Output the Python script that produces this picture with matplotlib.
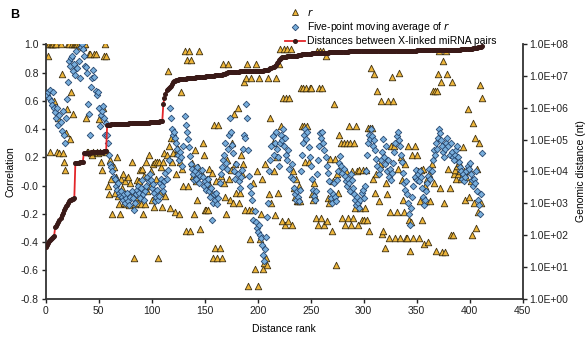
import numpy as np
import matplotlib
matplotlib.use("Agg")
import matplotlib.pyplot as plt
from matplotlib.lines import Line2D
from matplotlib.ticker import FixedLocator, FuncFormatter, FormatStrFormatter

plt.rcParams['font.family'] = ['Liberation Sans', 'DejaVu Sans']
plt.rcParams['axes.unicode_minus'] = False

# correlation r for each distance rank (rank 1 .. 412)
r = [1.00,0.92,1.00,0.24,1.00,1.00,1.00,0.60,1.00,1.00,
     0.24,0.48,0.23,1.00,0.79,0.23,0.17,0.11,0.37,0.54,
     1.00,1.00,0.33,0.66,1.00,0.51,1.00,1.00,1.00,1.00,
     1.00,0.99,1.00,1.00,0.98,1.00,1.00,0.48,0.24,0.24,
     0.93,0.93,0.23,0.22,0.24,0.93,0.93,0.24,0.23,0.47,
     0.24,0.17,0.11,0.55,0.92,1.00,0.92,0.24,0.00,-0.06,
     0.18,0.05,-0.20,0.13,-0.05,0.06,0.20,-0.07,-0.13,-0.20,
     0.05,-0.02,0.08,-0.12,0.03,-0.13,-0.10,0.06,-0.14,0.02,
     0.17,-0.05,-0.51,-0.13,-0.08,0.04,-0.12,0.03,0.11,-0.13,
     0.12,-0.20,0.07,-0.13,0.17,-0.04,0.22,0.00,0.10,-0.10,
     0.15,-0.15,0.17,0.05,0.17,-0.51,0.17,-0.05,0.13,-0.15,
     0.17,0.23,-0.07,0.22,0.81,0.28,-0.16,0.34,0.17,0.23,
     0.34,-0.19,0.08,0.23,0.26,-0.20,0.17,0.66,0.12,0.00,
     0.95,-0.32,0.89,0.00,0.95,-0.32,0.89,0.16,0.07,-0.20,
     0.25,0.03,-0.10,0.13,0.95,-0.31,0.08,0.30,0.22,-0.17,
     -0.17,0.05,-0.17,0.12,0.00,-0.06,0.09,-0.51,0.43,-0.44,
     0.03,-0.51,0.43,-0.44,0.07,-0.51,0.86,0.02,-0.08,-0.20,
     0.18,0.86,0.05,-0.10,0.11,0.30,-0.12,0.51,0.15,-0.05,
     0.55,-0.12,-0.05,0.22,0.08,0.15,0.73,-0.17,0.76,0.86,
     -0.71,-0.17,-0.38,0.76,-0.17,0.02,-0.59,0.86,0.10,-0.71,
     0.76,-0.38,-0.20,0.05,-0.59,-0.55,0.15,-0.51,-0.56,0.76,
     -0.06,0.48,-0.12,0.30,0.10,-0.21,0.76,0.20,-0.05,0.86,
     0.97,0.42,-0.25,0.62,0.97,-0.28,0.62,0.97,-0.25,0.62,
     0.97,-0.28,0.10,-0.02,-0.08,0.05,-0.11,-0.11,0.00,-0.11,
     0.69,0.42,0.69,0.42,0.17,0.69,0.42,0.17,0.69,0.69,
     -0.06,-0.10,0.02,-0.08,-0.23,0.95,-0.28,0.69,0.95,-0.23,
     0.69,0.95,-0.28,0.92,-0.25,-0.09,-0.12,0.19,-0.09,-0.32,
     0.03,0.58,0.19,-0.56,0.08,-0.05,0.36,0.12,0.30,-0.23,
     0.30,-0.28,0.10,0.30,-0.23,0.42,0.30,-0.28,0.10,-0.23,
     0.30,-0.16,0.42,0.10,-0.28,0.11,-0.16,-0.24,0.11,-0.24,
     -0.16,0.11,-0.24,0.41,-0.32,0.41,0.83,0.41,0.05,0.79,
     -0.05,0.08,0.67,-0.11,0.15,0.60,-0.34,-0.32,0.20,-0.44,
     0.02,-0.06,0.60,-0.37,-0.19,0.28,0.77,0.60,0.28,-0.37,
     -0.19,0.12,0.80,-0.37,0.20,0.04,-0.10,-0.19,0.15,-0.37,
     -0.37,0.28,-0.24,-0.46,-0.26,0.22,-0.37,0.28,0.07,0.22,
     0.10,-0.37,-0.11,0.11,-0.24,0.12,-0.41,0.00,-0.11,0.05,
     -0.40,0.08,-0.11,0.15,0.67,0.02,0.67,-0.46,0.67,0.79,
     0.95,-0.02,0.73,-0.47,0.88,-0.12,-0.47,0.95,0.79,0.12,
     -0.02,-0.35,0.73,-0.35,0.08,0.11,0.05,0.14,0.08,0.16,
     0.10,0.05,0.07,0.27,0.10,-0.10,0.06,0.54,-0.08,0.10,
     0.03,-0.35,0.44,-0.12,0.34,-0.30,0.12,-0.19,0.30,0.71,
     -0.12,0.62]

# five-point moving average of r
r_avg = [0.64,0.66,0.62,0.68,0.60,0.57,0.66,0.55,0.52,0.48,
         0.55,0.43,0.50,0.45,0.39,0.53,0.36,0.30,0.48,0.61,
         0.73,0.88,0.85,0.90,0.92,0.81,0.86,0.78,0.95,0.83,
         0.88,0.76,0.98,1.00,0.97,0.92,0.85,
         0.84,0.80,0.58,0.51,0.36,0.70,0.76,0.82,0.77,0.67,
         0.64,0.66,0.55,0.42,0.50,0.53,0.56,0.48,0.36,0.44,
         0.36,0.30,0.22,0.15,0.13,0.10,0.06,0.05,0.00,-0.03,0.02,-0.05,-0.07,
         -0.04,-0.08,-0.10,-0.06,-0.12,-0.09,-0.05,-0.11,-0.14,-0.08,
         -0.04,-0.09,-0.17,-0.12,-0.06,-0.03,0.00,-0.05,-0.09,-0.02,
         0.04,-0.06,-0.10,-0.04,0.00,0.06,0.03,0.08,0.04,-0.02,
         0.01,-0.05,-0.11,-0.08,-0.03,-0.10,-0.07,0.02,0.05,0.00,
         -0.04,0.03,0.09,0.05,0.11,
         0.18,0.55,0.48,0.40,0.36,0.38,0.34,0.30,0.26,0.22,
         0.18,0.24,0.20,0.14,0.28,0.49,0.43,0.38,0.33,0.27,
         0.21,0.15,0.12,0.08,0.04,
         0.10,0.05,0.13,0.08,0.02,0.07,0.11,0.06,0.00,0.03,
         -0.03,0.01,0.05,-0.04,-0.08,-0.02,-0.24,-0.12,-0.06,-0.10,
         -0.05,-0.13,-0.09,0.02,0.08,
         0.13,0.18,0.22,0.30,0.16,0.12,0.26,0.36,0.48,0.38,
         0.29,0.23,0.10,0.05,0.15,0.08,0.03,-0.02,0.06,0.11,
         0.26,0.36,0.34,0.58,0.48,
         0.25,0.07,0.00,-0.05,-0.10,-0.24,-0.18,-0.26,-0.30,-0.33,
         -0.28,-0.35,-0.37,-0.42,-0.49,-0.53,-0.45,-0.36,-0.22,-0.12,
         0.10,0.18,0.28,0.35,0.22,0.30,0.38,0.26,0.20,0.14,0.30,0.36,
         0.32,0.40,0.28,0.34,0.22,0.18,0.25,0.12,0.06,0.15,
         0.05,-0.02,-0.06,-0.10,-0.04,-0.08,-0.11,-0.03,0.10,0.22,
         0.30,0.36,0.40,0.33,0.38,0.27,0.20,0.14,
         0.05,-0.03,-0.07,-0.10,-0.04,0.08,0.18,0.28,0.37,0.34,
         0.38,0.30,0.25,0.20,0.14,0.09,0.03,-0.04,-0.09,-0.12,
         -0.06,0.02,-0.08,-0.11,0.04,0.10,0.16,0.21,0.14,0.09,
         0.12,0.07,0.03,0.00,0.05,0.02,-0.04,0.08,0.04,-0.02,
         -0.06,-0.10,-0.14,-0.08,-0.12,-0.16,-0.10,-0.05,-0.03,-0.09,
         0.00,0.10,0.22,0.30,0.36,0.33,0.40,0.35,0.28,0.32,
         0.25,0.19,0.14,0.08,0.12,0.18,0.24,0.33,0.20,0.15,
         0.28,0.10,0.18,0.06,0.12,0.04,0.09,0.16,0.24,0.30,
         0.35,0.38,0.32,0.28,0.22,0.17,0.09,0.02,-0.03,0.03,
         -0.06,-0.12,-0.20,-0.28,-0.16,-0.08,0.00,0.06,0.11,0.04,
         0.08,0.03,0.10,0.06,-0.02,-0.08,-0.14,-0.10,-0.04,0.02,
         0.07,0.12,0.05,0.10,0.18,0.25,0.22,0.30,0.26,0.34,
         0.40,0.37,0.32,0.28,0.24,0.20,0.26,0.30,0.34,0.28,
         0.22,0.30,0.24,0.20,0.18,0.22,0.25,0.28,0.20,0.17,
         0.13,0.10,0.05,0.08,0.03,0.06,0.10,0.14,0.12,0.16,
         0.08,0.04,0.00,0.05,0.02,0.10,-0.04,-0.10,-0.14,-0.20,
         -0.06,0.23]

# log10 of genomic distance (nt) between the miRNA pair at each rank (rank 0 .. 412)
log_dist = [1.64,1.70,1.76,1.82,1.85,1.88,1.91,1.95,1.98,2.27,
            2.30,2.34,2.40,2.48,2.55,2.62,2.71,2.78,2.84,2.90,
            2.96,3.02,3.07,3.09,3.11,3.13,3.15,3.16,4.27,4.27,
            4.28,4.28,4.29,4.29,4.30,4.30,4.58,4.58,4.58,4.59,
            4.59,4.59,4.59,4.60,4.60,4.60,4.60,4.61,4.61,4.61,
            4.61,4.62,4.62,4.62,4.62,4.63,4.63,4.63,5.47,5.47,
            5.47,5.47,5.48,5.48,5.48,5.48,5.48,5.48,5.49,5.49,
            5.49,5.49,5.49,5.50,5.50,5.50,5.50,5.50,5.50,5.51,
            5.51,5.51,5.51,5.51,5.52,5.52,5.52,5.52,5.52,5.53,
            5.53,5.53,5.53,5.53,5.54,5.54,5.54,5.54,5.55,5.55,
            5.55,5.55,5.56,5.56,5.56,5.57,5.57,5.57,5.58,5.58,
            5.58,6.13,6.31,6.45,6.55,6.60,6.63,6.66,6.70,6.74,
            6.80,6.84,6.86,6.87,6.88,6.89,6.90,6.90,6.91,6.91,
            6.92,6.92,6.92,6.93,6.93,6.93,6.94,6.94,6.94,6.95,
            6.95,6.95,6.96,6.96,6.96,6.97,6.97,6.97,6.98,6.98,
            6.98,6.99,6.99,6.99,7.00,7.00,7.00,7.01,7.01,7.01,
            7.02,7.02,7.02,7.03,7.03,7.04,7.05,7.06,7.07,7.08,
            7.10,7.11,7.12,7.13,7.13,7.13,7.13,7.14,7.14,7.14,
            7.14,7.14,7.14,7.15,7.15,7.15,7.15,7.15,7.15,7.15,
            7.15,7.16,7.16,7.16,7.16,7.16,7.16,7.16,7.16,7.16,
            7.17,7.17,7.17,7.17,7.17,7.17,7.18,7.18,7.18,7.19,
            7.20,7.22,7.24,7.26,7.28,7.30,7.33,7.36,7.40,7.44,
            7.50,7.55,7.58,7.60,7.60,7.61,7.61,7.61,7.62,7.62,
            7.62,7.62,7.63,7.63,7.63,7.64,7.64,7.64,7.65,7.65,
            7.66,7.67,7.68,7.69,7.70,7.70,7.70,7.71,7.71,7.71,
            7.71,7.72,7.72,7.72,7.72,7.72,7.73,7.73,7.73,7.73,
            7.73,7.73,7.74,7.74,7.74,7.74,7.74,7.75,7.75,7.75,
            7.75,7.75,7.75,7.76,7.76,7.76,7.76,7.76,7.76,7.77,
            7.77,7.77,7.77,7.77,7.77,7.77,7.78,7.78,7.78,7.78,
            7.78,7.78,7.78,7.78,7.78,7.78,7.78,7.78,7.78,7.78,
            7.79,7.79,7.79,7.79,7.79,7.79,7.79,7.79,7.79,7.79,
            7.79,7.79,7.79,7.79,7.79,7.79,7.79,7.79,7.79,7.79,
            7.79,7.79,7.79,7.79,7.79,7.80,7.80,7.80,7.80,7.80,
            7.80,7.80,7.80,7.80,7.80,7.80,7.80,7.80,7.80,7.80,
            7.80,7.80,7.80,7.80,7.80,7.80,7.80,7.80,7.80,7.80,
            7.81,7.81,7.81,7.81,7.81,7.81,7.81,7.81,7.81,7.81,
            7.81,7.81,7.81,7.81,7.81,7.81,7.81,7.81,7.81,7.81,
            7.82,7.82,7.82,7.82,7.82,7.82,7.82,7.82,7.82,7.82,
            7.82,7.82,7.82,7.82,7.82,7.83,7.83,7.83,7.83,7.83,
            7.83,7.83,7.84,7.84,7.84,7.84,7.85,7.85,7.85,7.85,
            7.86,7.86,7.86,7.87,7.87,7.88,7.88,7.89,7.90,7.91,
            7.92,7.93,7.94]

rank_r = np.arange(1, len(r) + 1)
rank_avg = np.arange(1, len(r_avg) + 1)
rank_d = np.arange(0, len(log_dist))
dist = 10 ** np.array(log_dist)

fs = 7.5
fig = plt.figure(figsize=(5.88, 3.40), dpi=100)
ax = fig.add_axes([0.0777, 0.1215, 0.8112, 0.7482])

ax.scatter(rank_r, r, marker='^', s=22, facecolor='#EDB53A', edgecolor='#3d2f10',
           linewidth=0.6, zorder=2)
ax.scatter(rank_avg, r_avg, marker='D', s=11, facecolor='#78AEDC', edgecolor='#27476f',
           linewidth=0.6, zorder=3)

ax.set_xlim(0, 450)
ax.set_ylim(-0.8, 1.0)
ax.xaxis.set_major_locator(FixedLocator(np.arange(0, 451, 50)))
ax.yaxis.set_major_locator(FixedLocator(np.arange(-0.8, 1.01, 0.2)))
ax.yaxis.set_major_formatter(FormatStrFormatter('%.1f'))
ax.tick_params(labelsize=fs, length=3, width=1.0, direction='out', pad=2, colors='#222222')
ax.spines['top'].set_visible(False)
ax.spines['right'].set_visible(False)
for s in ['left', 'bottom']:
    ax.spines[s].set_linewidth(1.3)
    ax.spines[s].set_color('#333333')
ax.set_xlabel('Distance rank', fontsize=fs, labelpad=6)
ax.set_ylabel('Correlation', fontsize=fs, labelpad=4)

ax2 = ax.twinx()
ax2.plot(rank_d, dist, color='#E3262A', linewidth=1.3, marker='o', markersize=2.6,
         markerfacecolor='#3a1a18', markeredgecolor='#3a1a18', zorder=4)
ax2.set_yscale('log')
ax2.set_ylim(1, 1e8)
ax2.yaxis.set_major_locator(FixedLocator(10.0 ** np.arange(0, 9)))
ax2.yaxis.set_minor_locator(FixedLocator([]))
ax2.yaxis.set_major_formatter(FuncFormatter(lambda v, p: '%.1E' % v))
ax2.tick_params(labelsize=fs, length=3, width=1.0, direction='out', pad=2, colors='#222222')
ax2.spines['top'].set_visible(False)
ax2.spines['left'].set_visible(False)
ax2.spines['bottom'].set_visible(False)
ax2.spines['right'].set_linewidth(1.3)
ax2.spines['right'].set_color('#333333')
ax2.set_ylabel('Genomic distance (nt)', fontsize=fs, labelpad=5)

handles = [
    Line2D([], [], linestyle='none', marker='^', markersize=5, markerfacecolor='#EDB53A',
           markeredgecolor='#3d2f10', markeredgewidth=0.6),
    Line2D([], [], linestyle='none', marker='D', markersize=3.3, markerfacecolor='#78AEDC',
           markeredgecolor='#27476f', markeredgewidth=0.6),
    Line2D([], [], color='#E3262A', linewidth=1.3, marker='o', markersize=2.6,
           markerfacecolor='#3a1a18', markeredgecolor='#3a1a18'),
]
labels = ['$r$', 'Five-point moving average of $r$', 'Distances between X-linked miRNA pairs']
leg = fig.legend(handles, labels, loc='upper left', bbox_to_anchor=(0.475, 0.995), frameon=False,
                 fontsize=fs, handlelength=2.0, handletextpad=0.2, labelspacing=0.22,
                 borderaxespad=0.1)
leg.set_zorder(10)

fig.text(0.017, 0.975, 'B', fontsize=9, fontweight='bold', va='top')

fig.savefig('out.png', dpi=100)
